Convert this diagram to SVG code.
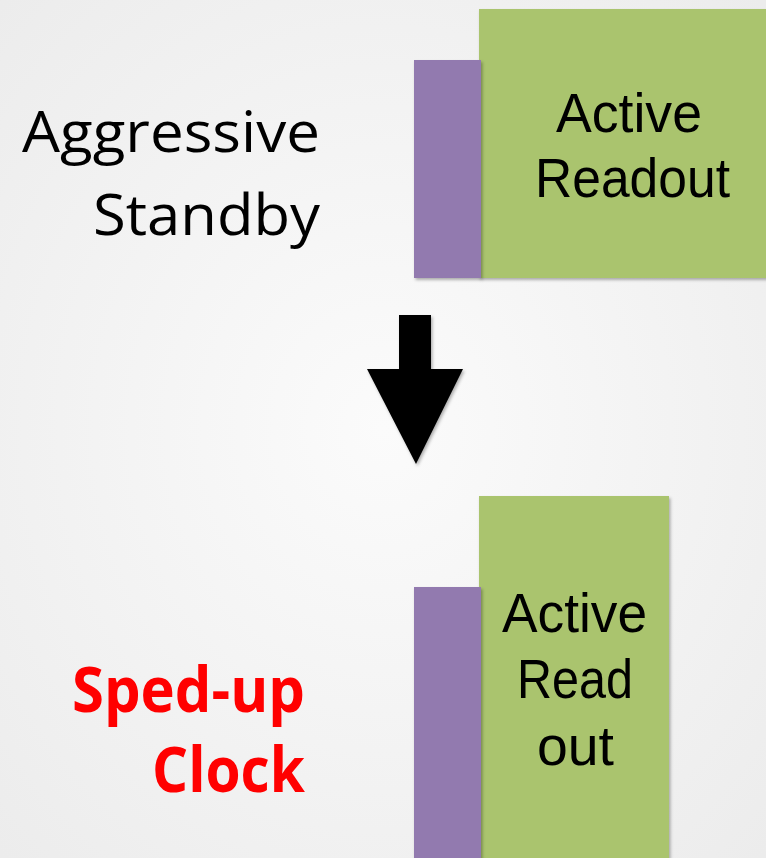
<svg xmlns="http://www.w3.org/2000/svg" width="766" height="858" viewBox="0 0 766 858">
  <defs>
    <radialGradient id="bg" cx="0.5" cy="0.5" r="0.75">
      <stop offset="0" stop-color="#fbfbfb"/>
      <stop offset="1" stop-color="#ebebeb"/>
    </radialGradient>
    <filter id="sh" x="-10%" y="-10%" width="130%" height="130%">
      <feDropShadow dx="1.5" dy="2" stdDeviation="1.5" flood-color="#000" flood-opacity="0.3"/>
    </filter>
  </defs>
  <style>
    .green { fill: #aac46e; }
    .purple { fill: #927aaf; }
    .lbl { font-family: "Liberation Sans", Arial, sans-serif; font-size: 56px; fill: #000; }
    .side { font-family: "Open Sans", "Liberation Sans", sans-serif; font-size: 57px; fill: #000; text-anchor: end; }
    .red { font-family: "Open Sans", "Liberation Sans", sans-serif; font-weight: bold; font-size: 62px; fill: #ff0000; text-anchor: end; }
  </style>
  <rect width="766" height="858" fill="url(#bg)"/>

  <g id="label-aggressive-standby">
    <text class="side" x="320" y="152" textLength="298" lengthAdjust="spacingAndGlyphs">Aggressive</text>
    <text class="side" x="320" y="235" textLength="227" lengthAdjust="spacingAndGlyphs">Standby</text>
  </g>

  <g id="top-block">
    <rect class="green" x="479" y="9" width="310" height="269" filter="url(#sh)"/>
    <rect class="purple" x="414" y="60" width="67" height="218" filter="url(#sh)"/>
    <text class="lbl" x="556" y="132" textLength="146" lengthAdjust="spacingAndGlyphs">Active</text>
    <text class="lbl" x="535" y="197" textLength="195" lengthAdjust="spacingAndGlyphs">Readout</text>
  </g>

  <g id="connectors">
    <path d="M399 315 H431 V369 H463 L416 464 L367 369 H399 Z" fill="#000" filter="url(#sh)"/>
  </g>

  <g id="label-sped-up-clock">
    <text class="red" x="305" y="712" textLength="233" lengthAdjust="spacingAndGlyphs">Sped-up</text>
    <text class="red" x="305" y="792" textLength="153" lengthAdjust="spacingAndGlyphs">Clock</text>
  </g>

  <g id="bottom-block">
    <rect class="green" x="479" y="496" width="190" height="370" filter="url(#sh)"/>
    <rect class="purple" x="414" y="587" width="67" height="280" filter="url(#sh)"/>
    <text class="lbl" x="502" y="632" textLength="145" lengthAdjust="spacingAndGlyphs">Active</text>
    <text class="lbl" x="517" y="698" textLength="116" lengthAdjust="spacingAndGlyphs">Read</text>
    <text class="lbl" x="537" y="765" textLength="77" lengthAdjust="spacingAndGlyphs">out</text>
  </g>
</svg>
